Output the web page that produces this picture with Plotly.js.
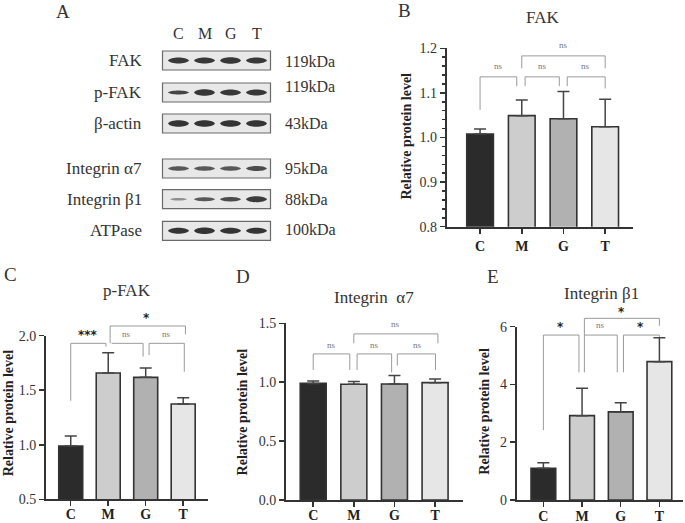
<!DOCTYPE html>
<html>
<head>
<meta charset="utf-8">
<script src="https://cdn.plot.ly/plotly-3.0.1.min.js"></script>
<style>html,body{margin:0;padding:0;background:#fff;}#chart{width:685px;height:523px;}</style>
</head>
<body>
<div id="chart"></div>
<script>
// ---------------- DATA ----------------
const groups = ['C', 'M', 'G', 'T'];
const fakMean = [1.008, 1.049, 1.042, 1.024];
const fakErr = [0.011, 0.035, 0.061, 0.062];
const pfakMean = [0.989, 1.658, 1.618, 1.374];
const pfakErr = [0.091, 0.186, 0.086, 0.058];
const a7Mean = [0.990, 0.982, 0.985, 0.996];
const a7Err = [0.020, 0.023, 0.071, 0.031];
const b1Mean = [1.10, 2.92, 3.05, 4.79];
const b1Err = [0.19, 0.95, 0.32, 0.83];

// Western blot panel (A)
const blotRows = ['FAK', 'p-FAK', 'β-actin', 'Integrin α7', 'Integrin β1', 'ATPase'];
const blotKDa = ['119kDa', '119kDa', '43kDa', '95kDa', '88kDa', '100kDa'];
// band thickness (px) per lane C, M, G, T
const bandThickness = [
  [6, 6, 6.5, 6],
  [4, 6.5, 6, 6],
  [6.5, 6.5, 6.5, 6.5],
  [4.5, 4.5, 4.5, 5],
  [2.5, 4, 4.5, 6],
  [6, 6.5, 6, 6]
];
// band darkness (0..1)
const bandDarkness = [
  [0.88, 0.88, 0.88, 0.88],
  [0.82, 0.88, 0.88, 0.88],
  [0.9, 0.9, 0.9, 0.9],
  [0.72, 0.72, 0.72, 0.78],
  [0.45, 0.72, 0.78, 0.86],
  [0.9, 0.9, 0.9, 0.9]
];

// ---------------- STYLE ----------------
const FONT = '"Liberation Serif", "Times New Roman", "DejaVu Serif", serif';
const W = 685, H = 523;
const barFill = ['#2b2b2b', '#cdcdcd', '#b1b1b1', '#e6e6e6'];
const px2x = p => p / W;
const py2y = p => 1 - p / H;

const panels = [
  {key: '', mean: fakMean, err: fakErr, xd: [446.7, 632.7], yd: [48.3, 226.7], xr: [-0.8, 3.66], yr: [0.8, 1.2], dtick: 0.1, fmt: '.1f', minor: 0.02, stand: 0},
  {key: '2', mean: pfakMean, err: pfakErr, xd: [46, 208.3], yd: [335.7, 499.3], xr: [-0.66, 3.67], yr: [0.5, 2.0], dtick: 0.5, fmt: '.1f', stand: -4},
  {key: '3', mean: a7Mean, err: a7Err, xd: [286, 462.7], yd: [323.3, 500], xr: [-0.67, 3.68], yr: [0, 1.5], dtick: 0.5, fmt: '.1f', stand: -4},
  {key: '4', mean: b1Mean, err: b1Err, xd: [516.7, 683], yd: [326.7, 500], xr: [-0.69, 3.61], yr: [0, 6], dtick: 2, fmt: 'd', stand: -3}
];

// brackets: [x0, x1, yLeftBottom, yTop, yRightBottom]
const brackets = [
  [[0, 0.88, 1.062, 1.136, 1.115], [1.08, 1.9, 1.115, 1.136, 1.115], [2.09, 3.0, 1.115, 1.136, 1.11], [1.0, 3.0, 1.155, 1.183, 1.155]],
  [[0, 0.94, 1.404, 1.93, 1.90], [1.05, 3.06, 1.93, 2.089, 2.012], [1.09, 1.93, 1.93, 1.93, 1.808], [2.09, 3.03, 1.823, 1.93, 1.67]],
  [[0, 0.9, 1.104, 1.24, 1.104], [1.08, 1.93, 1.104, 1.24, 1.084], [2.07, 3.01, 1.141, 1.24, 1.104], [1.0, 3.07, 1.33, 1.41, 1.33]],
  [[0, 0.92, 2.42, 5.71, 4.42], [1.06, 1.91, 4.42, 5.71, 4.42], [2.07, 3.0, 4.42, 5.71, 5.65], [1.06, 3.0, 5.71, 6.29, 6.03]]
];
// significance labels: [x, y, text]
const sigLabels = [
  [[0.44, 1.160, 'ns'], [1.5, 1.160, 'ns'], [2.54, 1.160, 'ns'], [2.0, 1.207, 'ns']],
  [[0.47, 2.005, '***'], [1.49, 2.012, 'ns'], [2.56, 2.012, 'ns'], [2.02, 2.165, '*']],
  [[0.45, 1.32, 'ns'], [1.5, 1.32, 'ns'], [2.57, 1.32, 'ns'], [2.02, 1.49, 'ns']],
  [[0.45, 5.98, '*'], [1.48, 6.05, 'ns'], [2.51, 6.0, '*'], [2.03, 6.5, '*']]
];

const traces = [];
const layout = {
  width: W, height: H,
  margin: {l: 0, r: 0, t: 0, b: 0},
  paper_bgcolor: '#fff', plot_bgcolor: 'rgba(0,0,0,0)',
  showlegend: false,
  font: {family: FONT, color: '#333'},
  shapes: [], annotations: []
};

panels.forEach((p, i) => {
  const xa = 'x' + p.key, ya = 'y' + p.key;
  traces.push({
    type: 'bar', x: groups, y: p.mean, xaxis: xa, yaxis: ya, width: 0.64,
    marker: {color: barFill, line: {color: '#333', width: 1.6}},
    error_y: {type: 'data', symmetric: false, array: p.err, arrayminus: p.err.map(() => 0), color: '#444', thickness: 1.5, width: 6},
    hoverinfo: 'skip'
  });
  const axCommon = {showline: true, linecolor: '#333', linewidth: 2, ticks: 'outside', ticklen: 5, tickwidth: 1.5, tickcolor: '#333', showgrid: false, zeroline: false, fixedrange: true};
  layout['xaxis' + p.key] = Object.assign({}, axCommon, {
    domain: [px2x(p.xd[0]), px2x(p.xd[1])], anchor: ya, type: 'category', range: p.xr,
    ticklabelstandoff: p.stand,
    tickfont: {family: FONT, size: 14, color: '#222', weight: 'bold'}
  });
  const yax = Object.assign({}, axCommon, {
    domain: [py2y(p.yd[1]), py2y(p.yd[0])], anchor: xa, range: p.yr, dtick: p.dtick, tick0: 0,
    tickformat: p.fmt, tickfont: {family: FONT, size: 14, color: '#333'}
  });
  if (p.minor) yax.minor = {dtick: p.minor, ticks: 'outside', ticklen: 3, tickwidth: 1.5, tickcolor: '#333'};
  layout['yaxis' + p.key] = yax;

  const fx = v => px2x(p.xd[0] + (v - p.xr[0]) / (p.xr[1] - p.xr[0]) * (p.xd[1] - p.xd[0]));
  const fy = v => py2y(p.yd[1] - (v - p.yr[0]) / (p.yr[1] - p.yr[0]) * (p.yd[1] - p.yd[0]));
  brackets[i].forEach(b => {
    layout.shapes.push({
      type: 'path', xref: 'paper', yref: 'paper',
      path: `M ${fx(b[0])},${fy(b[2])} L ${fx(b[0])},${fy(b[3])} L ${fx(b[1])},${fy(b[3])} L ${fx(b[1])},${fy(b[4])}`,
      line: {color: '#9a9a9a', width: 1}
    });
  });
  sigLabels[i].forEach(s => {
    const isNs = s[2] === 'ns';
    layout.annotations.push({
      xref: 'paper', yref: 'paper', x: fx(s[0]), y: fy(s[1]), text: s[2], showarrow: false,
      xanchor: 'center', yanchor: 'middle',
      font: isNs ? {family: FONT, size: 9, color: '#777'} : {family: 'DejaVu Sans, sans-serif', size: 12, color: '#222', weight: 'bold'}
    });
  });
});

// Titles, y titles, panel letters (paper px coords)
const titles = [['FAK', 542, 17], ['p-FAK', 126.7, 290], ['Integrin\u00a0 α7', 374, 297], ['Integrin β1', 601.7, 293]];
titles.forEach(t => layout.annotations.push({xref: 'paper', yref: 'paper', x: px2x(t[1]), y: py2y(t[2]), text: t[0], showarrow: false, xanchor: 'center', yanchor: 'middle', font: {family: FONT, size: 17, color: '#333'}}));
const ytitles = [[406.7, 135.8], [8.3, 413], [242.7, 411.7], [485, 411.7]];
ytitles.forEach(t => layout.annotations.push({xref: 'paper', yref: 'paper', x: px2x(t[0]), y: py2y(t[1]), text: 'Relative protein level', textangle: -90, showarrow: false, xanchor: 'center', yanchor: 'middle', font: {family: FONT, size: 14, color: '#222', weight: 'bold'}}));
const letters = [['A', 62.5, 11], ['B', 404, 10], ['C', 10, 274], ['D', 243, 276], ['E', 493, 276]];
letters.forEach(t => layout.annotations.push({xref: 'paper', yref: 'paper', x: px2x(t[1]), y: py2y(t[2]), text: t[0], showarrow: false, xanchor: 'center', yanchor: 'middle', font: {family: FONT, size: 19, color: '#333'}}));

// ---------------- BLOT PANEL (A) ----------------
layout.xaxis5 = {domain: [0, 350 / W], range: [0, 350], visible: false, fixedrange: true, anchor: 'y5'};
layout.yaxis5 = {domain: [1 - 250 / H, 1], range: [250, 0], visible: false, fixedrange: true, anchor: 'x5'};
traces.push({type: 'scatter', x: [0], y: [0], xaxis: 'x5', yaxis: 'y5', mode: 'markers', marker: {opacity: 0}, hoverinfo: 'skip'});

const rowY = [60.5, 92.5, 123.5, 168.5, 199.2, 230.8];
const kdaY = [61, 86.7, 123, 168, 199, 229.5];
const laneX = [178.5, 204.5, 230.5, 256.5];
const boxX = [162.5, 270.5];
groups.forEach((g, j) => layout.annotations.push({xref: 'x5', yref: 'y5', x: laneX[j], y: 33.5, text: g, showarrow: false, xanchor: 'center', yanchor: 'middle', font: {family: FONT, size: 16, color: '#333'}}));
blotRows.forEach((r, i) => {
  const yc = rowY[i];
  layout.shapes.push({type: 'rect', xref: 'x5', yref: 'y5', x0: boxX[0], x1: boxX[1], y0: yc - 9.5, y1: yc + 9.5, fillcolor: '#e8e8e8', line: {color: '#6a6a6a', width: 1.2}, layer: 'below'});
  laneX.forEach((lx, j) => {
    const t = bandThickness[i][j];
    const w = (i === 4 && j === 0) ? 17 : 21;
    const x0 = lx - w / 2, x1 = lx + w / 2, c = t * 0.667;
    const d = bandDarkness[i][j];
    const g = Math.round(232 - d * 200);
    layout.shapes.push({
      type: 'path', xref: 'x5', yref: 'y5',
      path: `M ${x0},${yc} C ${x0 + w * 0.12},${yc - c} ${x1 - w * 0.12},${yc - c} ${x1},${yc} C ${x1 - w * 0.12},${yc + c} ${x0 + w * 0.12},${yc + c} ${x0},${yc} Z`,
      fillcolor: `rgb(${g},${g},${g})`, line: {width: 0}
    });
  });
  layout.annotations.push({xref: 'x5', yref: 'y5', x: 143.5, y: yc, text: r, showarrow: false, xanchor: 'right', yanchor: 'middle', font: {family: FONT, size: 17, color: '#333'}});
  layout.annotations.push({xref: 'x5', yref: 'y5', x: 282.5, y: kdaY[i], text: blotKDa[i], showarrow: false, xanchor: 'left', yanchor: 'middle', font: {family: FONT, size: 16, color: '#333'}});
});

Plotly.newPlot('chart', traces, layout, {staticPlot: true, displayModeBar: false});
</script>
</body>
</html>
